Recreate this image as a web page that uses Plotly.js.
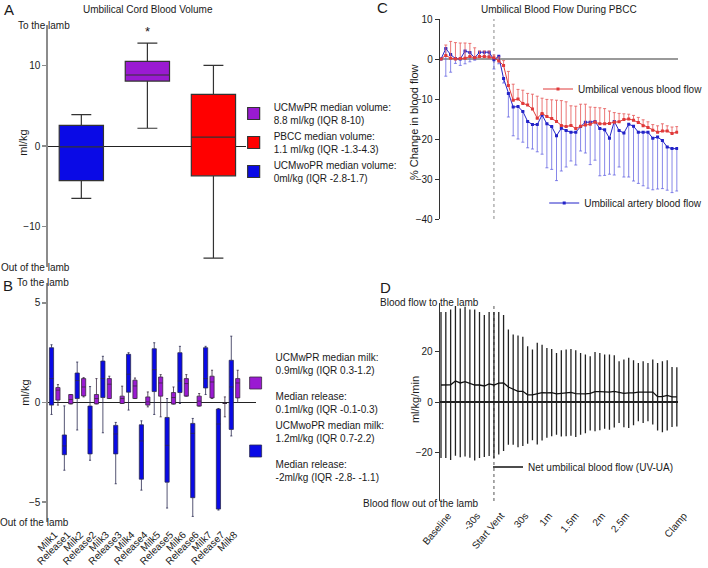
<!DOCTYPE html>
<html>
<head>
<meta charset="utf-8">
<script src="https://cdn.plot.ly/plotly-3.0.1.min.js"></script>
<style>
  html, body { margin: 0; padding: 0; background: #fff; }
  #fig { width: 708px; height: 568px; }
</style>
</head>
<body>
<div id="fig"></div>
<script>
/*
 * DATA
*/

// panel A - umbilical cord blood volume (ml/kg), order: UCMwoPR, UCMwPR, PBCC
var volGroups = ['UCMwoPR', 'UCMwPR', 'PBCC'];
var volLow  = [-6.5, 2.2, -13.9];
var volQ1   = [-4.3, 8.05, -3.7];
var volMed  = [-0.1, 8.8, 1.1];
var volQ3   = [2.55, 10.5, 6.4];
var volHigh = [3.9, 12.75, 10.0];
var volLegend = [
    'UCMwoPR median volume:<br>0ml/kg (IQR -2.8-1.7)',
    'UCMwPR median volume:<br>8.8 ml/kg (IQR 8-10)',
    'PBCC median volume:<br>1.1 ml/kg (IQR -1.3-4.3)'
];

// panel B - milking and release volumes (ml/kg)
var milkCats = ['Milk1', 'Release1', 'Milk2', 'Release2', 'Milk3', 'Release3', 'Milk4', 'Release4',
                'Milk5', 'Release5', 'Milk6', 'Release6', 'Milk7', 'Release7', 'Milk8'];
// UCMwoPR (blue)
var woLow  = [-0.6, -3.4, -1.38, -2.9, -1.52, -4.08, -0.38, -4.4, -0.6, -5.3, -0.05, -5.72, 0.4, -5.4, -1.68];
var woQ1   = [-0.13, -2.62, 0.2, -2.58, 0.25, -2.58, 0.52, -3.85, 0.55, -4.0, 0.5, -4.78, 0.73, -5.35, -1.35];
var woMed  = [1.2, -2.18, 1.1, -1.35, 1.2, -1.58, 1.42, -1.93, 1.65, -2.15, 1.08, -1.55, 1.2, -1.08, 0.78];
var woQ3   = [2.75, -1.63, 1.48, -0.18, 2.08, -1.15, 2.42, -1.12, 2.7, -0.75, 2.5, -1.05, 2.75, -0.33, 2.12];
var woHigh = [2.9, -0.17, 2.03, 0.8, 2.32, -1.0, 2.5, -0.92, 3.0, 0.2, 2.82, -0.8, 2.82, -0.3, 3.33];
// UCMwPR (purple)
var wLow  = [-0.13, -0.07, 0.28, -0.07, 0.2, -0.05, 0.2, -0.22, -0.72, -0.08, 0.32, -0.18, 0.2, -0.72, 0.0];
var wQ1   = [0.12, -0.07, 0.33, -0.07, 0.2, -0.05, 0.2, -0.13, 0.32, -0.08, 0.32, -0.18, 0.23, -0.05, 0.23];
var wMed  = [0.62, 0.15, 0.78, 0.2, 0.92, 0.2, 0.83, 0.03, 0.98, 0.25, 0.95, 0.07, 1.03, -0.05, 0.98];
var wQ3   = [0.75, 0.4, 1.2, 0.4, 1.2, 0.32, 1.12, 0.28, 1.28, 0.5, 1.2, 0.32, 1.32, -0.05, 1.2];
var wHigh = [0.9, 0.4, 1.25, 1.2, 1.32, 0.82, 1.23, 0.53, 1.4, 0.78, 1.4, 0.45, 1.62, 0.28, 1.62];
var milkLegend = [
    'UCMwPR median milk:<br>0.9ml/kg (IQR 0.3-1.2)<br><br>Median release:<br>0.1ml/kg (IQR -0.1-0.3)',
    'UCMwoPR median milk:<br>1.2ml/kg (IQR 0.7-2.2)<br><br>Median release:<br>-2ml/kg (IQR -2.8- -1.1)'
];

// panels C and D share the same 50 time points
var steps = [0, 1, 2, 3, 4, 5, 6, 7, 8, 9, 10, 11, 12, 13, 14, 15, 16, 17, 18, 19, 20, 21, 22, 23, 24,
             25, 26, 27, 28, 29, 30, 31, 32, 33, 34, 35, 36, 37, 38, 39, 40, 41, 42, 43, 44, 45, 46, 47, 48, 49];
var stepTicks = [0, 6, 11, 16, 21, 26.5, 32, 37, 49];
var stepLabels = ['Baseline', '-30s', 'Start Vent', '30s', '1m', '1.5m', '2m', '2.5m', 'Clamp'];

// panel C - % change in blood flow
var veinMean = [0, 0.9, 0.2, 0, 0.1, 0.2, 0.6, 0.3, 0.6, 0.6,
                0.5, 0.3, -0.5, -1.6, -6.6, -10.3, -10.0, -11.1, -11.5, -12.5,
                -14.8, -13.6, -14.4, -14.9, -15.6, -16.6, -16.9, -16.6, -17.4, -16.8,
                -16.5, -16.3, -15.8, -16.2, -16.2, -16.1, -15.8, -15.7, -15.1, -15.0,
                -15.3, -15.9, -16.7, -17.1, -17.8, -18.3, -18.0, -18.0, -18.6, -18.3];
var veinSD = [0, 2.6, 4.2, 4.1, 3.9, 3.8, 3.3, 2.5, 1.4, 1.4,
              1.5, 0.7, 1.0, 1.2, 3.5, 4.0, 2.4, 3.3, 2.9, 3.7,
              5.5, 3.8, 4.3, 4.7, 5.3, 6.2, 6.2, 4.9, 5.6, 5.5,
              5.2, 4.3, 3.7, 4.0, 3.8, 3.1, 2.4, 2.1, 1.4, 1.2,
              1.2, 1.3, 1.5, 1.4, 1.4, 1.6, 1.8, 1.3, 1.6, 1.4];
var arteryMean = [0, 2.6, 1.1, 0.1, 0, 2.0, 1.6, 0.3, 1.7, 1.7,
                  1.7, -0.2, 0.7, -4.9, -8.6, -12.0, -11.9, -13.1, -15.6, -16.4,
                  -16.4, -14.0, -16.2, -16.9, -19.2, -17.3, -17.9, -18.3, -18.3, -16.9,
                  -15.8, -15.8, -15.6, -17.4, -17.7, -19.8, -15.6, -17.9, -18.5, -16.3,
                  -16.8, -18.3, -18.3, -18.3, -19.8, -19.5, -20.4, -22.0, -22.4, -22.4];
var arterySD = [0, 6.9, 4.4, 1.2, 1.6, 3.2, 2.3, 0.6, 0.8, 0.8,
                0.8, 2.3, 1.9, 1.1, 5.9, 7.2, 8.1, 7.7, 6.6, 6.1,
                6.8, 9.8, 11.0, 10.7, 11.2, 10.7, 9.1, 7.2, 8.2, 6.1,
                7.7, 10.6, 9.7, 11.8, 11.4, 9.0, 13.4, 9.1, 11.0, 13.2,
                13.7, 12.8, 13.4, 14.0, 12.9, 13.0, 12.0, 10.8, 11.0, 10.6];

// panel D - net umbilical blood flow (ml/kg/min)
var netMean = [6.7, 6.7, 6.8, 8.3, 7.5, 8.0, 7.2, 6.7, 6.7, 6.3,
               7.1, 6.7, 7.4, 7.5, 5.9, 4.9, 4.2, 4.2, 2.8, 2.8,
               3.3, 3.7, 3.6, 3.7, 3.2, 3.4, 3.6, 3.8, 3.3, 3.2,
               3.2, 3.4, 4.1, 4.1, 4.1, 3.9, 4.2, 3.9, 3.4, 3.6,
               3.6, 3.9, 3.9, 3.9, 3.9, 2.1, 2.1, 2.6, 2.0, 2.0];
var netSD = [28.8, 28.8, 29.6, 29.5, 29.3, 29.5, 29.2, 29.7, 28.8, 28.0,
             28.4, 28.8, 28.1, 26.8, 22.7, 21.7, 22.0, 21.5, 19.2, 17.9,
             20.0, 18.9, 17.7, 17.2, 16.1, 17.0, 17.1, 17.1, 17.1, 16.1,
             15.5, 14.6, 15.6, 15.2, 14.6, 14.8, 14.2, 12.2, 13.3, 13.8,
             12.8, 11.5, 12.2, 11.5, 12.8, 13.3, 14.0, 13.8, 11.8, 11.7];

/*
 * PLOTTING
*/

var W = 708, H = 568;
var FONT = 'Arial, "Liberation Sans", sans-serif';
var INK = '#1a1a1a';
var BLUE = '#0a0ae6', PURPLE = '#9a1ad2', RED = '#ff0000';

// pixel -> paper helpers (margins are zero)
function px(x) { return x / W; }
function py(y) { return 1 - y / H; }

var noLegendBg = 'rgba(0,0,0,0)';
var data = [];

// panel A
var volFill = [BLUE, PURPLE, RED];
var volRank = [3, 1, 2];
for (var i = 0; i < volGroups.length; i++) {
    data.push({
        type: 'box', xaxis: 'x', yaxis: 'y', legend: 'legend',
        x: [i], q1: [volQ1[i]], median: [volMed[i]], q3: [volQ3[i]],
        lowerfence: [volLow[i]], upperfence: [volHigh[i]],
        width: 0.67, whiskerwidth: 0.45,
        fillcolor: volFill[i], line: {color: '#333', width: 1.2},
        name: volLegend[i], legendgroup: volGroups[i], legendrank: volRank[i],
        hoverinfo: 'skip'
    });
}

// panel B
data.push({
    type: 'box', xaxis: 'x2', yaxis: 'y2', legend: 'legend2',
    x: milkCats, q1: woQ1, median: woMed, q3: woQ3, lowerfence: woLow, upperfence: woHigh,
    offsetgroup: 'wo', whiskerwidth: 0.5,
    fillcolor: BLUE, line: {color: '#2b2b50', width: 0.8},
    name: milkLegend[1], legendgroup: 'wo', legendrank: 2, hoverinfo: 'skip'
});
data.push({
    type: 'box', xaxis: 'x2', yaxis: 'y2', legend: 'legend2',
    x: milkCats, q1: wQ1, median: wMed, q3: wQ3, lowerfence: wLow, upperfence: wHigh,
    offsetgroup: 'w', whiskerwidth: 0.5,
    fillcolor: PURPLE, line: {color: '#3a2a40', width: 0.8},
    name: milkLegend[0], legendgroup: 'w', legendrank: 1, hoverinfo: 'skip'
});

// panel C
var zeros = new Array(steps.length).fill(0);
data.push({
    type: 'scatter', mode: 'lines+markers', xaxis: 'x3', yaxis: 'y3', legend: 'legend4',
    x: steps, y: arteryMean,
    line: {color: '#2323c8', width: 1},
    marker: {color: '#2323c8', size: 3, symbol: 'square'},
    error_y: {type: 'data', symmetric: false, array: zeros, arrayminus: arterySD,
              color: 'rgba(95,95,225,0.75)', thickness: 1, width: 1.5},
    name: 'Umbilical artery blood flow', hoverinfo: 'skip'
});
data.push({
    type: 'scatter', mode: 'lines+markers', xaxis: 'x3', yaxis: 'y3', legend: 'legend3',
    x: steps, y: veinMean,
    line: {color: '#e03a3a', width: 1},
    marker: {color: '#e03a3a', size: 3, symbol: 'square'},
    error_y: {type: 'data', symmetric: false, array: veinSD, arrayminus: zeros,
              color: 'rgba(232,95,95,0.85)', thickness: 1, width: 1.5},
    name: 'Umbilical venous blood flow', hoverinfo: 'skip'
});

// panel D
data.push({
    type: 'scatter', mode: 'lines', xaxis: 'x4', yaxis: 'y4', legend: 'legend5',
    x: steps, y: netMean,
    line: {color: '#111', width: 1.3},
    error_y: {type: 'data', array: netSD, color: '#222', thickness: 1.3, width: 0},
    name: 'Net umbilical blood flow (UV-UA)', hoverinfo: 'skip'
});

var startVent = stepTicks[stepLabels.indexOf('Start Vent')];

function hiddenX(anchor, domain, range) {
    return {anchor: anchor, domain: domain, range: range, showline: false, showticklabels: false,
            ticks: '', zeroline: false, showgrid: false, fixedrange: true};
}
function grayY(anchor, domain, range, vals) {
    return {anchor: anchor, domain: domain, range: range, showline: true, linecolor: '#8c8c8c',
            linewidth: 2, ticks: 'outside', ticklen: 4, tickwidth: 1.5, tickcolor: '#8c8c8c',
            tickvals: vals, tickfont: {size: 10, color: INK}, zeroline: true, zerolinecolor: '#222',
            zerolinewidth: 1, showgrid: false, fixedrange: true};
}
function blackY(anchor, domain, range, vals, zeroColor) {
    return {anchor: anchor, domain: domain, range: range, showline: true, linecolor: '#333',
            linewidth: 1, ticks: 'outside', ticklen: 4, tickwidth: 1, tickcolor: '#333',
            tickvals: vals, tickfont: {size: 10, color: INK}, zeroline: true, zerolinecolor: zeroColor,
            zerolinewidth: 1.2, showgrid: false, fixedrange: true};
}

function note(text, x, y, opts) {
    var a = {text: text, x: px(x), y: py(y), xref: 'paper', yref: 'paper', showarrow: false,
             xanchor: 'center', yanchor: 'middle', font: {size: 10, color: INK}};
    for (var k in (opts || {})) { a[k] = opts[k]; }
    return a;
}

var annotations = [
    note('A', 2, 9, {xanchor: 'left', font: {size: 15, color: INK}}),
    note('B', 1, 285, {xanchor: 'left', font: {size: 15, color: INK}}),
    note('C', 380, 8, {xanchor: 'left', font: {size: 15, color: INK}}),
    note('D', 383, 287, {xanchor: 'left', font: {size: 15, color: INK}}),
    note('Umbilical Cord Blood Volume', 150, 10),
    note('Umbilical Blood Flow During PBCC', 567, 10),
    note('To the lamb', 73, 25, {xanchor: 'right'}),
    note('Out of the lamb', 73, 267, {xanchor: 'right'}),
    note('To the lamb', 72, 283, {xanchor: 'right'}),
    note('Out of the lamb', 72, 522, {xanchor: 'right'}),
    note('Blood flow to the lamb', 488, 302, {xanchor: 'right'}),
    note('Blood flow out of the lamb', 488, 503, {xanchor: 'right'}),
    note('ml/kg', 23, 143, {textangle: -90, font: {size: 11, color: INK}}),
    note('ml/kg', 25, 393, {textangle: -90, font: {size: 11, color: INK}}),
    note('% Change in blood flow', 420, 122, {textangle: -90, font: {size: 11, color: INK}}),
    note('ml/kg/min', 421, 400, {textangle: -90, font: {size: 11, color: INK}}),
    // significance marker above the UCMwPR box
    {text: '*', x: 1, y: volHigh[1] + 1.4, xref: 'x', yref: 'y', showarrow: false,
     font: {size: 13, color: INK}}
];

function legendAt(x, y, anchor, gap) {
    return {x: px(x), y: py(y), xanchor: 'left', yanchor: anchor, bgcolor: noLegendBg,
            font: {size: 10, color: INK, family: FONT}, tracegroupgap: gap, itemclick: false,
            itemdoubleclick: false, traceorder: 'normal'};
}

var layout = {
    width: W, height: H,
    margin: {l: 0, r: 0, t: 0, b: 0},
    paper_bgcolor: '#fff', plot_bgcolor: 'rgba(0,0,0,0)',
    font: {family: FONT, size: 10, color: INK},
    boxmode: 'group', boxgap: 0, boxgroupgap: 0.35,

    xaxis: hiddenX('y', [px(49), px(250)], [-0.5, 2.5]),
    yaxis: grayY('x', [py(267), py(25)], [-15, 15], [-10, 0, 10]),

    xaxis2: {anchor: 'y2', domain: [px(49), px(260)], range: [-0.5, 15.7], type: 'category',
             showline: false, ticks: '', tickangle: -45, tickfont: {size: 10, color: INK},
             ticklabelstandoff: 4, zeroline: false, showgrid: false, fixedrange: true},
    yaxis2: grayY('x2', [py(522), py(283)], [-6, 6], [-5, 0, 5]),

    xaxis3: hiddenX('y3', [px(446), px(688)], [-0.27, 49.3]),
    yaxis3: blackY('x3', [py(219), py(19)], [-40, 10], [-40, -30, -20, -10, 0, 10], '#9a9a9a'),

    xaxis4: {anchor: 'y4', domain: [px(446), px(688)], range: [-0.27, 49.3], showline: false, ticks: '',
             tickvals: stepTicks, ticktext: stepLabels, tickangle: -50,
             ticklabelstandoff: 6, ticklabelshift: 7,
             tickfont: {size: 10, color: INK}, zeroline: false, showgrid: false, fixedrange: true},
    yaxis4: blackY('x4', [py(501), py(303)], [-39, 39], [-20, 0, 20], '#222'),

    legend: legendAt(237, 94, 'top', 12),
    legend2: legendAt(239, 344, 'top', 0),
    legend3: legendAt(546, 89, 'middle', 0),
    legend4: legendAt(552, 203, 'middle', 0),
    legend5: legendAt(495, 467, 'middle', 0),

    shapes: [
        {type: 'line', xref: 'x3', yref: 'y3 domain', x0: startVent, x1: startVent, y0: 0, y1: 1,
         line: {color: '#8a8a8a', width: 1, dash: 'dot'}, layer: 'below'},
        {type: 'line', xref: 'x4', yref: 'y4 domain', x0: startVent, x1: startVent, y0: 0, y1: 1,
         line: {color: '#555', width: 1, dash: 'dot'}, layer: 'below'}
    ],
    annotations: annotations
};

Plotly.newPlot('fig', data, layout, {displayModeBar: false, staticPlot: true});
</script>
</body>
</html>
